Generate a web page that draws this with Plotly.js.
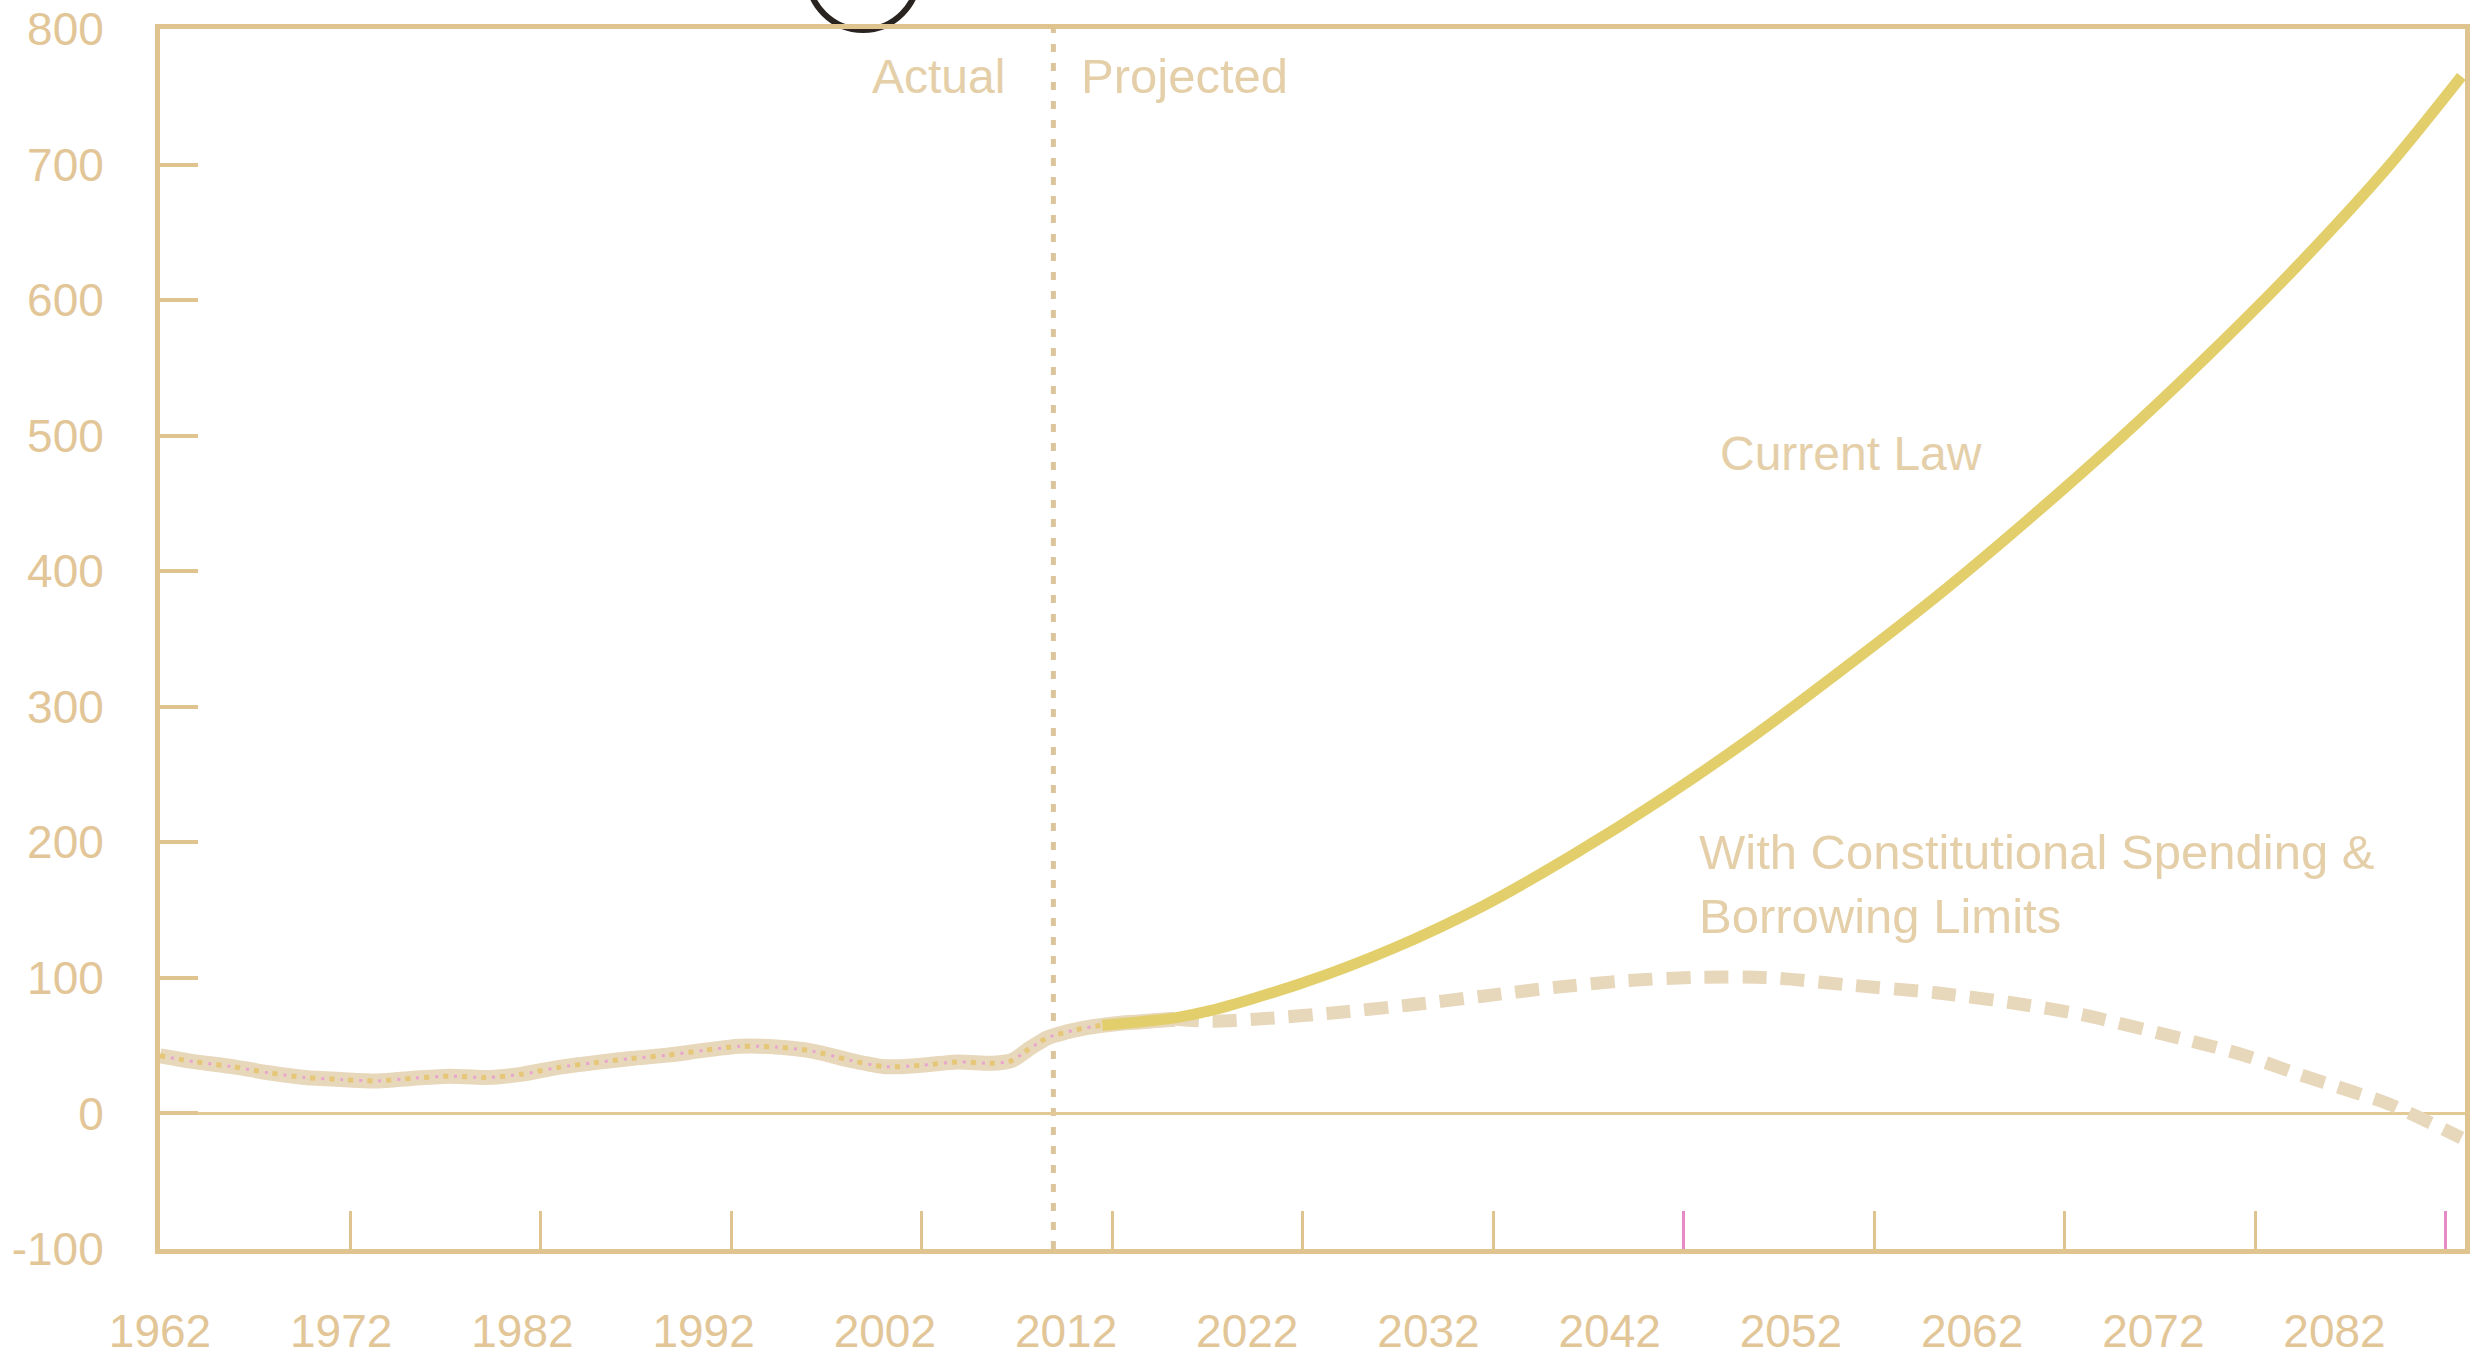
<!DOCTYPE html>
<html>
<head>
<meta charset="utf-8">
<script src="https://cdn.plot.ly/plotly-3.0.1.min.js"></script>
<style>
html,body{margin:0;padding:0;background:#ffffff;}
#chart{width:2482px;height:1359px;}
</style>
</head>
<body>
<div id="chart"></div>
<script>
// ---- data ----
const actualYears = [1962,1964,1966,1968,1970,1972,1974,1976,1978,1980,1982,1984,1986,1988,1990,1992,1994,1996,1998,2000,2002,2004,2006,2008,2009,2010,2011];
const actualVals  = [42.5,38,34.5,30,26.5,25,24,26,27.5,26.5,29,34,37.5,40.5,43,46.5,49.5,49,46,39.5,34.5,35.5,38,37,39,48,56];

const sharedYears = [2012,2013,2014,2015,2016,2017,2018];
const sharedVals  = [60,63,65,66.5,67.5,68.5,69.5];

const currentLawYears = [2014,2016,2018,2020,2025,2030,2035,2040,2045,2050,2055,2060,2065,2070,2075,2080,2085,2089];
const currentLawVals  = [65,67.5,70.5,76,96,121.5,153,191,233,279,329,381,437,496,559,626,699,765];

const constitutionalYears = [2018,2020,2023,2027,2031,2035,2039,2043,2047,2051,2055,2060,2064,2068,2073,2077,2080,2083,2085,2089];
const constitutionalVals  = [69.5,68,70,74.5,80,86.5,93,98,100.5,100,95,89,82,73,57,43,29,16,7,-18];

const labelYears = [1962,1972,1982,1992,2002,2012,2022,2032,2042,2052,2062,2072,2082];
const tickMarkYears = [1972,1982,1992,2002,2012,2022,2032,2042,2052,2062,2072,2082];
const pinkTickYears = [2042,2082];
const yTicks = [-100,0,100,200,300,400,500,600,700,800];
const yTickText = ['-100','0','100','200','300','400','500','600','700','800'];
const projectionStart = 2011.3;

// ---- styles ----
const tan = '#dfc48f';
const textTan = '#e2c697';
const labelTan = '#e4cfa9';
const beige = '#e7d7bb';
const yellow = '#e2cf6c';

const baseYears = actualYears.concat(sharedYears);
const baseVals = actualVals.concat(sharedVals);

const traces = [
  {x: baseYears, y: baseVals, mode:'lines', line:{color:beige, width:15, shape:'spline', smoothing:0.8}, hoverinfo:'skip', showlegend:false},
  {x: baseYears, y: baseVals, mode:'lines', line:{color:'#e6c777', width:5, dash:'5px,14px', shape:'spline', smoothing:0.8}, hoverinfo:'skip', showlegend:false},
  {x: baseYears, y: baseVals, mode:'lines', line:{color:'#e8a6cf', width:3, dash:'0px,11px,3px,5px', shape:'spline', smoothing:0.8}, hoverinfo:'skip', showlegend:false},
  {x: constitutionalYears, y: constitutionalVals, mode:'lines', line:{color:beige, width:13, dash:'24px,14px', shape:'spline', smoothing:0.8}, hoverinfo:'skip', showlegend:false},
  {x: currentLawYears, y: currentLawVals, mode:'lines', line:{color:yellow, width:11, shape:'spline', smoothing:0.8}, hoverinfo:'skip', showlegend:false},
  {x: tickMarkYears, y: tickMarkYears.map(()=>null), xaxis:'x2', yaxis:'y', mode:'lines', hoverinfo:'skip', showlegend:false},
  {x: pinkTickYears, y: pinkTickYears.map(()=>null), xaxis:'x3', yaxis:'y', mode:'lines', hoverinfo:'skip', showlegend:false}
];

const layout = {
  width: 2482,
  height: 1359,
  paper_bgcolor: '#ffffff',
  plot_bgcolor: '#ffffff',
  margin: {l:160, r:17, t:29, b:110, pad:0},
  showlegend: false,
  xaxis: {
    range: [1962, 2089.2],
    tickvals: labelYears,
    ticktext: labelYears.map(String),
    ticks: '',
    showgrid: false,
    zeroline: false,
    showline: true,
    mirror: true,
    linecolor: tan,
    linewidth: 5,
    ticklabelstandoff: 38,
    tickfont: {family:'Liberation Sans', size:46, color:textTan}
  },
  xaxis2: {
    overlaying: 'x',
    anchor: 'y',
    side: 'bottom',
    range: [1962, 2083.0],
    tickvals: tickMarkYears,
    ticks: 'inside',
    ticklen: 38,
    tickwidth: 3,
    tickcolor: tan,
    showticklabels: false,
    showgrid: false,
    zeroline: false,
    showline: false
  },
  xaxis3: {
    overlaying: 'x',
    anchor: 'y',
    side: 'bottom',
    range: [1962, 2083.0],
    tickvals: pinkTickYears,
    ticks: 'inside',
    ticklen: 38,
    tickwidth: 3,
    tickcolor: '#e58ac6',
    showticklabels: false,
    showgrid: false,
    zeroline: false,
    showline: false
  },
  yaxis: {
    range: [-100, 800],
    tickvals: yTicks,
    ticktext: yTickText,
    ticks: 'inside',
    ticklen: 38,
    tickwidth: 4,
    tickcolor: tan,
    showgrid: false,
    zeroline: true,
    zerolinecolor: '#e3ca94',
    zerolinewidth: 3,
    showline: true,
    mirror: true,
    linecolor: tan,
    linewidth: 5,
    ticklabelstandoff: 42,
    tickfont: {family:'Liberation Sans', size:46, color:textTan}
  },
  shapes: [
    {type:'line', xref:'x', yref:'paper', x0:projectionStart, x1:projectionStart, y0:0, y1:1,
     line:{color:'#dcc49c', width:5, dash:'8px,11px'}, layer:'below'},
    {type:'circle', xref:'paper', yref:'paper', x0:0.2811, x1:0.3289, y0:0.9992, y1:1.0893,
     line:{color:'#2a2420', width:6}, layer:'below'}
  ],
  annotations: [
    {xref:'x', yref:'y', x:projectionStart, y:765, xanchor:'right', yanchor:'middle', xshift:-46,
     text:'Actual', showarrow:false, font:{family:'Liberation Sans', size:48, color:labelTan}},
    {xref:'x', yref:'y', x:projectionStart, y:765, xanchor:'left', yanchor:'middle', xshift:26,
     text:'Projected', showarrow:false, font:{family:'Liberation Sans', size:49, color:labelTan}},
    {xref:'x', yref:'y', x:2055.3, y:487, xanchor:'center', yanchor:'middle',
     text:'Current Law', showarrow:false, font:{family:'Liberation Sans', size:48, color:labelTan}},
    {xref:'x', yref:'y', x:2046.8, y:169, xanchor:'left', yanchor:'middle', align:'left',
     text:'With Constitutional Spending &amp;<br>Borrowing Limits', showarrow:false,
     font:{family:'Liberation Sans', size:49, color:labelTan}}
  ]
};

Plotly.newPlot('chart', traces, layout, {staticPlot:true, displayModeBar:false});
</script>
</body>
</html>
